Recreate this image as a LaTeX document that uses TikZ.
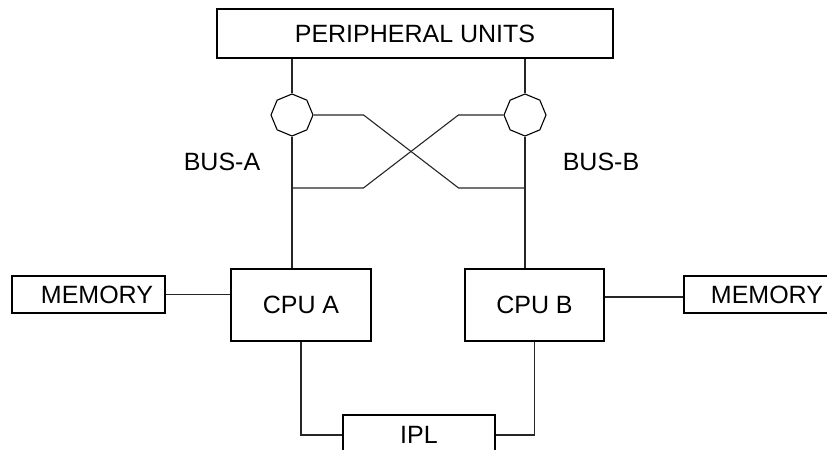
\documentclass[tikz,border=0pt]{standalone}
\usepackage{fontspec}
\setmainfont{Liberation Sans}
\usepackage{tikz}
\usetikzlibrary{shapes.geometric, positioning, calc}

\begin{document}
\begin{tikzpicture}[x=0.5pt, y=-0.5pt, line width=0.55pt,
  font=\fontsize{12.5}{15}\selectfont,
  unitbox/.style={draw, rectangle, inner sep=0pt, align=center},
  switch/.style={draw, regular polygon, regular polygon sides=8, shape border rotate=22.5, minimum size=21pt, inner sep=0pt},
  wire/.style={draw, black!85}]
  \useasboundingbox (0,0) rectangle (827,450);
  \clip (0,0) rectangle (827,450);

  % Peripheral side and the two buses
  \node[unitbox, minimum width=198pt, minimum height=24.5pt] (per) at (415,33.5) {PERIPHERAL UNITS};
  \node[switch] (octA) at (292,115) {};
  \node[switch] (octB) at (525,115) {};
  \node (busA) at (222,162) {BUS-A};
  \node (busB) at (601,162) {BUS-B};

  % Processors and memories
  \node[unitbox, minimum width=70pt, minimum height=36pt] (cpuA) at (301,305) {CPU A};
  \node[unitbox, minimum width=69.5pt, minimum height=36pt] (cpuB) at (534.5,305) {CPU B};
  \node[unitbox, inner xsep=6pt, text width=64.5pt, align=right, minimum height=18.5pt] (memA) at (88.5,294.5) {MEMORY};
  \node[unitbox, inner xsep=4.5pt, text width=65pt, align=right, minimum height=18.5pt] (memB) at (758,294.5) {MEMORY};
  \node[unitbox, minimum width=76pt, minimum height=20pt] (ipl) at (419,435) {IPL};

  \coordinate (jA) at (292,188);
  \coordinate (jB) at (525,188);

  % Bus lines
  \draw[wire] (octA.north |- per.south) -- (octA.north);
  \draw[wire] (octB.north |- per.south) -- (octB.north);
  \draw[wire] (octA.south) -- (octA.south |- cpuA.north);
  \draw[wire] (octB.south) -- (octB.south |- cpuB.north);

  % Crossover
  \draw[wire] (octA.east) -- ++(50,0) -- ++(95,73) -- (jB);
  \draw[wire] (octB.west) -- ++(-45,0) -- ++(-95,73) -- (jA);

  % Memory and IPL links
  \draw[wire] (memA.east) -- (memA.east -| cpuA.west);
  \draw[wire] (cpuB.east |- 0,297) -- (memB.west |- 0,297);
  \draw[wire] (cpuA.south) |- (ipl.west);
  \draw[wire] (cpuB.south) |- (ipl.east);
\end{tikzpicture}
\end{document}
